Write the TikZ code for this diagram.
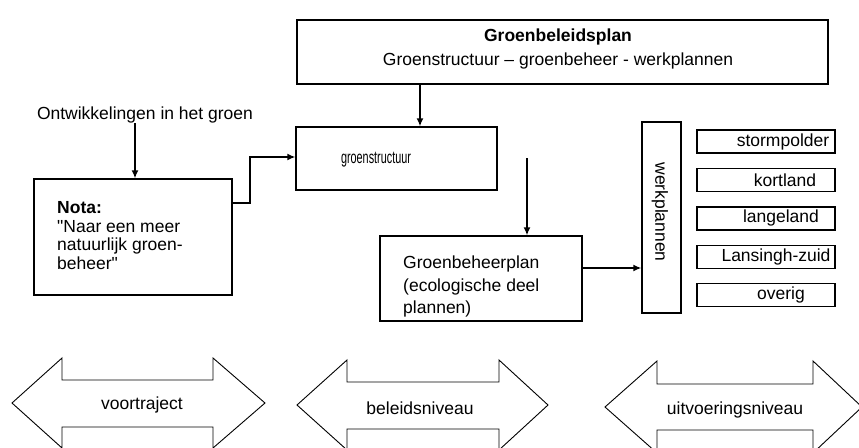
\documentclass[tikz,border=0pt]{standalone}
\usepackage{fontspec}
\setmainfont{Liberation Sans}[Ligatures=TeXOff]
\usepackage{graphicx}
\usetikzlibrary{arrows.meta}
\begin{document}
\begin{tikzpicture}[x=1pt,y=-1pt,
  every node/.style={font=\fontsize{17.5}{21}\selectfont},
  box/.style={draw, line width=1.4pt, inner sep=0pt},
  txt/.style={inner sep=0pt},
  arr/.style={line width=1.4pt, -{Latex[length=8pt,width=7pt]}},
  dbl/.style={draw, line width=0.9pt, line join=miter}]
\useasboundingbox (0,0) rectangle (859,447);

% top box
\node[box, minimum width=531pt, minimum height=64pt] (plan) at (562.5,52) {};
\node[txt, align=center, anchor=north, font=\fontsize{17.5}{24}\selectfont] (plantxt) at (558,29)
  {\textbf{Groenbeleidsplan}\\Groenstructuur – groenbeheer - werkplannen};

% groenstructuur
\node[box, minimum width=201pt, minimum height=63pt] (gs) at (396.5,158.5) {};
\node[txt] (gstxt) at (376,160) {\scalebox{0.62}[1]{groenstructuur}};
\coordinate (a1) at (420,0);
\draw[arr] (plan.south -| a1) -- (gs.north -| a1);

% Ontwikkelingen + Nota
\node[txt] (ontw) at (145,115) {Ontwikkelingen in het groen};
\node[box, minimum width=198pt, minimum height=116pt] (nota) at (133,237) {};
\node[txt, align=left, anchor=north west, font=\fontsize{17.5}{18.8}\selectfont] (notatxt) at (57,201)
  {\textbf{Nota:}\\"Naar een meer\\natuurlijk groen-\\beheer"};
\coordinate (a2) at (135,0);
\draw[arr] (ontw.south -| a2) -- (nota.north -| a2);
\coordinate (k1) at (250,203);
\coordinate (k2) at (250,157);
\draw[arr] (nota.east |- k1) -- (k1) -- (k2) -- (gs.west |- k2);

% Groenbeheerplan
\node[box, minimum width=202pt, minimum height=85pt] (gbp) at (481,278.5) {};
\node[txt, align=left, anchor=north west, font=\fontsize{17.5}{22.5}\selectfont] (gbptxt) at (403,256)
  {Groenbeheerplan\\(ecologische deel\\plannen)};
\coordinate (s2) at (527,158);
\draw[arr] (s2) -- (gbp.north -| s2);

% werkplannen
\node[box, minimum width=39pt, minimum height=191pt] (wp) at (661.5,217.5) {};
\node[txt, rotate=-90] (wptxt) at (660,212) {werkplannen};
\coordinate (k3) at (0,268);
\draw[arr] (gbp.east |- k3) -- (wp.west |- k3);

% items
\node[box, minimum width=138pt, minimum height=23pt] (i1) at (766,141.5) {};
\node[txt] (t1) at (783,141.5) {stormpolder};
\node[box, minimum width=138pt, minimum height=23pt] (i2) at (766,179.9) {};
\node[txt] (t2) at (785,179.9) {kortland};
\node[box, minimum width=138pt, minimum height=23pt] (i3) at (766,218.3) {};
\node[txt] (t3) at (781,218.3) {langeland};
\node[box, minimum width=138pt, minimum height=23pt] (i4) at (766,256.7) {};
\node[txt] (t4) at (776,256.7) {Lansingh-zuid};
\node[box, minimum width=138pt, minimum height=23pt] (i5) at (766,295.1) {};
\node[txt] (t5) at (781,295.1) {overig};

% bottom double arrows
\path[dbl] (12,403) -- (62,358) -- (62,380) -- (213,380) -- (213,358) -- (265,403)
  -- (213,448) -- (213,427) -- (62,427) -- (62,448) -- cycle;
\node[txt] (voor) at (142,405) {voortraject};
\path[dbl] (297,405) -- (347,360) -- (347,382) -- (499,382) -- (499,360) -- (548,405)
  -- (499,450) -- (499,429) -- (347,429) -- (347,450) -- cycle;
\node[txt] (beleid) at (420,408) {beleidsniveau};
\path[dbl] (605,407) -- (657,361) -- (657,384) -- (813,384) -- (813,361) -- (862,407)
  -- (813,453) -- (813,430) -- (657,430) -- (657,453) -- cycle;
\node[txt] (uitv) at (735,410) {uitvoeringsniveau};
\end{tikzpicture}
\end{document}
